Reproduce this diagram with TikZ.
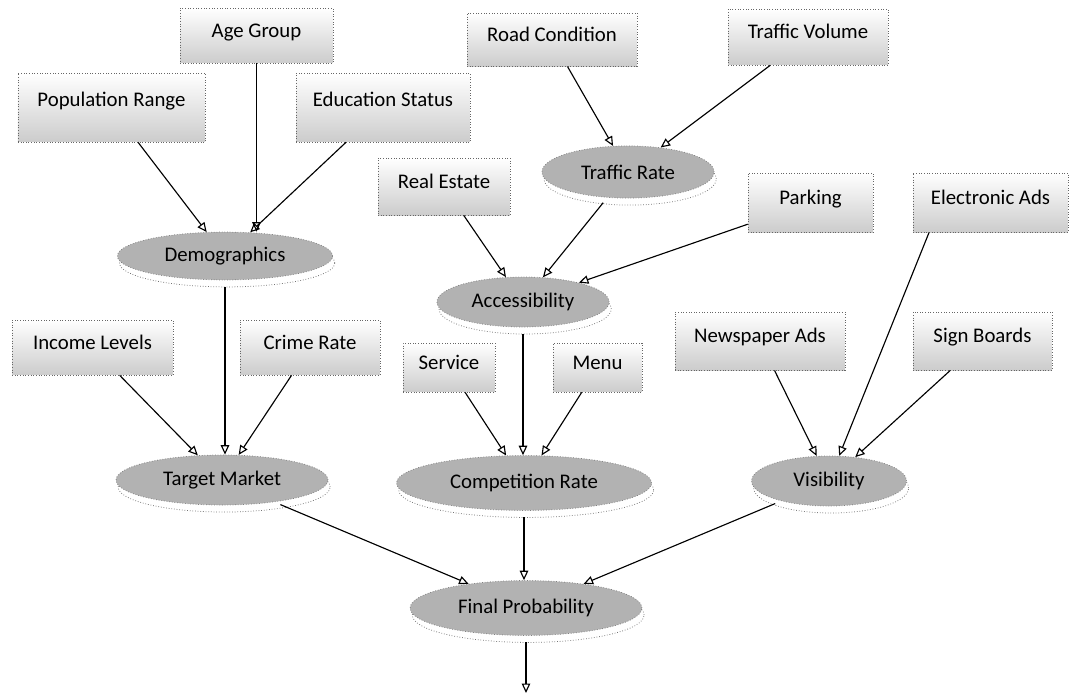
\documentclass[tikz,border=0pt]{standalone}
\usepackage{fontspec}
\setmainfont{Carlito}
\usetikzlibrary{shapes.geometric,arrows.meta,shadows}

\begin{document}
\begin{tikzpicture}
    [x=1.859mm, y=-1.859mm,
    factor/.style={rectangle, draw=black!60, densely dotted, top color=white, middle color=white, bottom color=black!20, inner sep=0pt, text height=8pt, text depth=6pt, font=\fontsize{11}{13}\selectfont},
    hub/.style={ellipse, fill=black!30, draw=black!50, densely dotted, inner sep=0pt, font=\fontsize{11}{13}\selectfont,
        drop shadow={shadow xshift=0.4mm, shadow yshift=-1.3mm, fill=white, draw=black!55, densely dotted, opacity=1}},
    link/.style={-{Triangle[open, length=5pt, width=4.5pt]}, line width=0.6pt, solid}]
		\useasboundingbox (0,0) rectangle (107.6,69.8);

		\node [factor, minimum width=28.4mm, minimum height=10.2mm] (age) at (25.65, 3.55) {Age Group};
		\node [factor, minimum width=31.6mm, minimum height=9.9mm] (road) at (55.2, 3.95) {Road Condition};
		\node [factor, minimum width=29.7mm, minimum height=10.4mm] (vol) at (80.8, 3.7) {Traffic Volume};
		\node [factor, minimum width=34.8mm, minimum height=12.8mm, text depth=9pt] (pop) at (11.15, 10.75) {Population Range};
		\node [factor, minimum width=32.3mm, minimum height=12.8mm, text depth=9pt] (edu) at (38.3, 10.75) {Education Status};
		\node [factor, minimum width=24.5mm, minimum height=10.6mm] (real) at (44.4, 18.65) {Real Estate};
		\node [factor, minimum width=23.2mm, minimum height=11mm] (park) at (81.05, 20.25) {Parking};
		\node [factor, minimum width=28.8mm, minimum height=11mm] (elec) at (99.05, 20.25) {Electronic Ads};
		\node [factor, minimum width=29.9mm, minimum height=10.2mm] (inc) at (9.25, 34.75) {Income Levels};
		\node [factor, minimum width=26mm, minimum height=10.2mm] (crime) at (31, 34.75) {Crime Rate};
		\node [factor, minimum width=17.1mm, minimum height=9.1mm] (serv) at (44.9, 36.75) {Service};
		\node [factor, minimum width=16.5mm, minimum height=9.1mm] (menu) at (59.75, 36.75) {Menu};
		\node [factor, minimum width=31.6mm, minimum height=10.8mm] (news) at (76, 34.1) {Newspaper Ads};
		\node [factor, minimum width=25.8mm, minimum height=10.8mm] (sign) at (98.25, 34.1) {Sign Boards};

		\node [hub, minimum width=40mm, minimum height=8.9mm] (demo) at (22.5, 25.6) {Demographics};
		\node [hub, minimum width=32mm, minimum height=9.7mm] (traffic) at (62.8, 17.2) {Traffic Rate};
		\node [hub, minimum width=32mm, minimum height=9.3mm] (access) at (52.3, 30.2) {Accessibility};
		\node [hub, minimum width=39.4mm, minimum height=9.3mm] (target) at (22.2, 48) {Target Market};
		\node [hub, minimum width=47.4mm, minimum height=10.2mm] (comp) at (52.4, 48.3) {Competition Rate};
		\node [hub, minimum width=28.8mm, minimum height=9.3mm] (vis) at (82.9, 48.1) {Visibility};
		\node [hub, minimum width=43.1mm, minimum height=10.2mm] (final) at (52.6, 60.8) {Final Probability};
		\coordinate (out) at (52.6, 69.3);

		\draw[link] (age) -- (age |- demo.north);
		\draw[link] (pop) -- (demo);
		\draw[link] (edu) -- (demo);
		\draw[link] (road) -- (traffic);
		\draw[link] (vol) -- (traffic);
		\draw[link] (real) -- (access);
		\draw[link, shorten <=1.2mm] (traffic) -- (access);
		\draw[link] (park) -- (access);
		\draw[link] (elec.206) -- (vis);
		\draw[link, shorten <=1.2mm] (demo) -- (demo |- target.north);
		\draw[link] (inc) -- (target);
		\draw[link] (crime) -- (target);
		\draw[link, shorten <=1.2mm] (access) -- (access |- comp.north);
		\draw[link] (serv) -- (comp);
		\draw[link] (menu) -- (comp);
		\draw[link] (news) -- (vis);
		\draw[link] (sign) -- (vis);
		\draw[link, shorten <=1.2mm] (target) -- (final);
		\draw[link, shorten <=1.2mm] (comp) -- (comp |- final.north);
		\draw[link, shorten <=1.2mm] (vis) -- (final);
		\draw[link, shorten <=1.2mm] (final) -- (out);
    \end{tikzpicture}
\end{document}
